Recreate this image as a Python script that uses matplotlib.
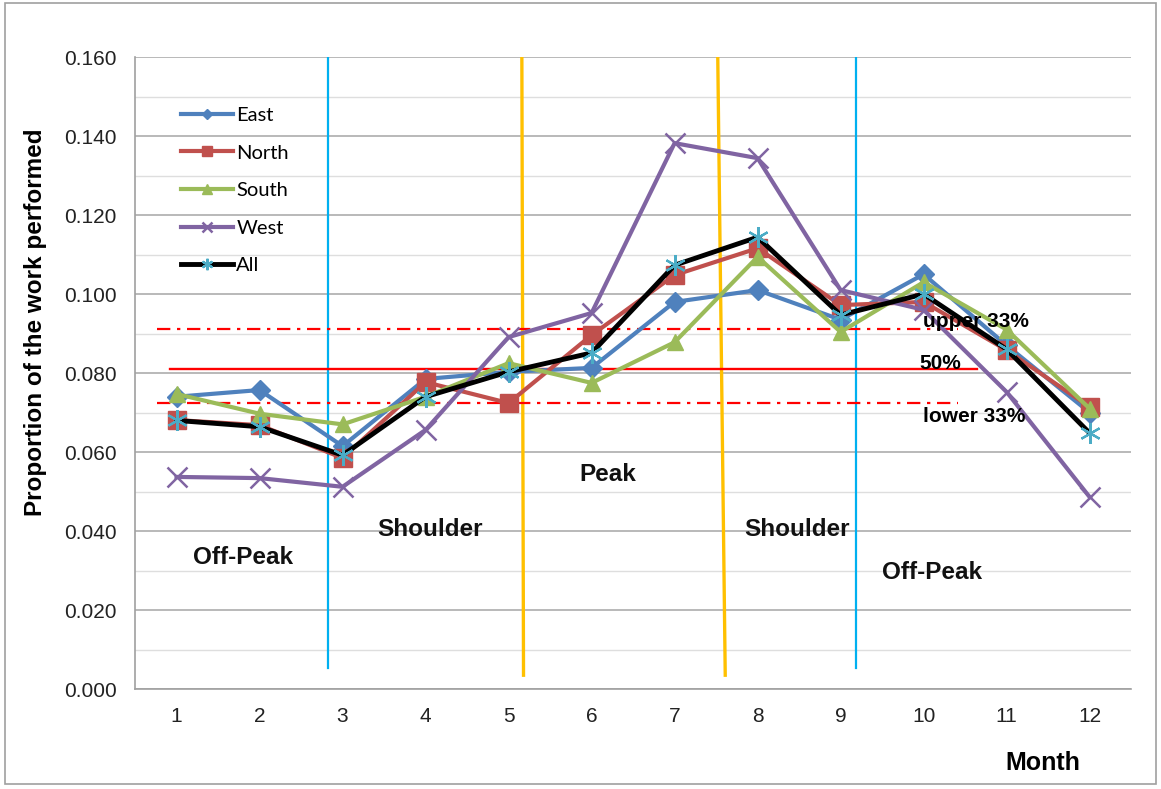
## Library Imports
import numpy as np
import matplotlib
matplotlib.use('Agg')
import matplotlib.pyplot as plt
from matplotlib.patches import Rectangle

## Data
months = [1, 2, 3, 4, 5, 6, 7, 8, 9, 10, 11, 12]
east = [0.074, 0.0757, 0.0615, 0.0785, 0.0803, 0.0813, 0.098, 0.101, 0.0935, 0.105, 0.087, 0.070]
north = [0.0681, 0.0668, 0.0585, 0.0777, 0.0724, 0.0896, 0.1048, 0.1116, 0.0972, 0.098, 0.0858, 0.0714]
south = [0.0747, 0.0697, 0.0670, 0.0740, 0.0825, 0.0775, 0.0878, 0.1094, 0.0904, 0.103, 0.0910, 0.0710]
west = [0.0537, 0.0534, 0.0512, 0.0656, 0.0891, 0.0952, 0.1382, 0.1344, 0.1010, 0.0960, 0.0752, 0.0486]
all_regions = [0.0680, 0.0664, 0.0592, 0.0740, 0.0803, 0.0851, 0.1073, 0.1144, 0.0947, 0.1000, 0.0860, 0.0648]
series_names = ['East', 'North', 'South', 'West', 'All']

## Threshold lines
upper_33 = 0.0911
median_50 = 0.0810
lower_33 = 0.0724

## Season boundaries (month positions)
season_bounds = [2.82, 5.16, 7.52, 9.18]
season_labels = ['Off-Peak', 'Shoulder', 'Peak', 'Shoulder', 'Off-Peak']
season_label_pos = [(1.8, 0.0334), (4.05, 0.0403), (6.19, 0.0542), (8.48, 0.0403), (10.1, 0.0294)]

yticks = np.arange(0, 0.1601, 0.02)

fig = plt.figure(figsize=(11.61, 7.89), dpi=100)
ax = fig.add_axes([0.1163, 0.1267, 0.858, 0.801])

## grid
ax.set_ylim(0, 0.16)
ax.set_xlim(0.5, 12.5)
ax.set_yticks(yticks)
ax.set_yticks(np.arange(0.01, 0.16, 0.02), minor=True)
ax.set_yticklabels(['{:.3f}'.format(v) for v in yticks])
ax.set_xticks(months)
ax.grid(axis='y', which='major', color='#A6A6A6', linewidth=1.1, zorder=0)
ax.grid(axis='y', which='minor', color='#DEDEDE', linewidth=1.0, zorder=0)
ax.set_axisbelow(True)
for s in ['top', 'right']:
	ax.spines[s].set_visible(False)
for s in ['left', 'bottom']:
	ax.spines[s].set_color('#A0A0A0')
	ax.spines[s].set_linewidth(1.2)
ax.tick_params(axis='both', which='both', length=0, labelsize=15, colors='#222222')
ax.tick_params(axis='y', pad=13)
ax.tick_params(axis='x', pad=13)
for lbl in ax.get_xticklabels() + ax.get_yticklabels():
	lbl.set_fontfamily('Liberation Sans')

## vertical season lines
ax.plot([season_bounds[0], season_bounds[0]], [0.0053, 0.16], color='#00B0F0', lw=1.6, zorder=2)
ax.plot([season_bounds[1], season_bounds[1] + 0.02], [0.16, 0.0035], color='#FFC000', lw=2.4, zorder=2)
ax.plot([season_bounds[2], season_bounds[2] + 0.09], [0.16, 0.0035], color='#FFC000', lw=2.4, zorder=2)
ax.plot([season_bounds[3], season_bounds[3]], [0.0053, 0.16], color='#00B0F0', lw=1.6, zorder=2)

## threshold lines
ax.plot([0.77, 10.41], [upper_33, upper_33], color='#FF0000', lw=1.6, ls=(0, (6, 3, 1.5, 3)), zorder=2)
ax.plot([0.92, 10.64], [median_50, median_50], color='#FF0000', lw=1.7, zorder=2)
ax.plot([0.77, 10.41], [lower_33, lower_33], color='#FF0000', lw=1.6, ls=(0, (6, 3, 1.5, 3)), zorder=2)

## data series
asterisk = (6, 2, 0)
ax.plot(months, east, color='#4F81BD', lw=3, marker='D', ms=10, mfc='#4F81BD', mec='#4F81BD', label='East', zorder=3)
ax.plot(months, north, color='#C0504D', lw=3, marker='s', ms=13, mfc='#C0504D', mec='#C0504D', label='North', zorder=3)
ax.plot(months, south, color='#9BBB59', lw=3, marker='^', ms=12, mfc='#9BBB59', mec='#9BBB59', label='South', zorder=3)
ax.plot(months, west, color='#8064A2', lw=3, marker='x', ms=14, mew=1.8, mec='#8064A2', label='West', zorder=3)
ax.plot(months, all_regions, color='black', lw=3.5, marker=asterisk, ms=15, mew=1.6, mec='#4BACC6', label='All', zorder=3)

## annotations
for txt, (mx, my) in zip(season_labels, season_label_pos):
	ax.text(mx, my, txt, ha='center', va='center', fontsize=17.5, fontweight='bold', family='Liberation Sans', color='#111111', zorder=4)
ax.text(9.99, upper_33 + 0.0020, 'upper 33%', ha='left', va='center', fontsize=15, fontweight='bold', family='Liberation Sans', zorder=4)
ax.text(9.95, median_50 + 0.0013, '50%', ha='left', va='center', fontsize=15, fontweight='bold', family='Liberation Sans', zorder=4)
ax.text(9.99, lower_33 - 0.0035, 'lower 33%', ha='left', va='center', fontsize=15, fontweight='bold', family='Liberation Sans', zorder=4)

## legend
leg = ax.legend(loc='upper left', bbox_to_anchor=(0.028, 0.950), frameon=False, prop={'family': 'Lato', 'size': 14.5},
	labelspacing=1.02, handlelength=2.6, handletextpad=0.15, markerscale=0.55)

## axis labels
ax.set_ylabel('Proportion of the work performed', fontsize=17.5, fontweight='bold', family='Liberation Sans')
ax.yaxis.set_label_coords(-0.088, 0.581)
fig.text(1043 / 1161, 1 - 763 / 789, 'Month', ha='center', va='center', fontsize=18, fontweight='bold', family='Liberation Sans')

## outer border
fig.patches.append(Rectangle((0.004, 0.006), 0.992, 0.99, transform=fig.transFigure, fill=False, edgecolor='#A0A0A0', lw=1.2))

fig.savefig('out.png', dpi=100)
